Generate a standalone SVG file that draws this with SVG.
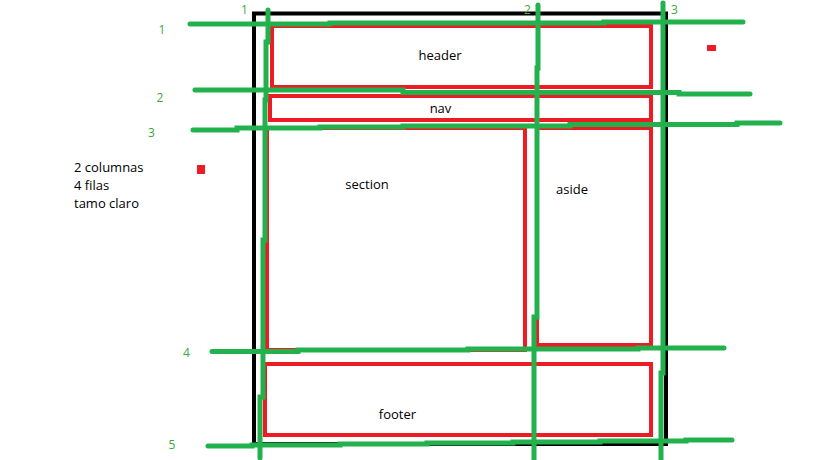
<svg xmlns="http://www.w3.org/2000/svg" width="816" height="460" viewBox="0 0 816 460">
  <style>
    .frame { fill: none; stroke: #000000; stroke-width: 4; }
    .box { fill: none; stroke: #ed1c24; stroke-width: 4; }
    .grid { fill: none; stroke: #22b14c; stroke-width: 5; stroke-linecap: round; stroke-linejoin: miter; }
    .lbl { font-family: "Open Sans", "Noto Sans", sans-serif; font-size: 13px; fill: #000000; }
    .num { font-family: "Open Sans", "Noto Sans", sans-serif; font-size: 12px; fill: #3aaa35; }
    .dot { fill: #ed1c24; }
  </style>
  <rect width="816" height="460" fill="#ffffff"/>

  <g id="frame">
    <rect class="frame" x="254" y="13.5" width="412" height="430.5"/>
  </g>

  <g id="header">
    <rect class="box" x="272" y="26" width="379" height="61"/>
    <text class="lbl" x="440" y="60" text-anchor="middle">header</text>
  </g>
  <g id="nav">
    <rect class="box" x="270" y="96" width="381" height="24"/>
    <text class="lbl" x="440.5" y="113" text-anchor="middle">nav</text>
  </g>
  <g id="section">
    <rect class="box" x="267" y="128" width="258" height="222"/>
    <text class="lbl" x="367" y="189" text-anchor="middle">section</text>
  </g>
  <g id="aside">
    <rect class="box" x="537" y="128" width="114" height="217"/>
    <text class="lbl" x="572" y="194" text-anchor="middle">aside</text>
  </g>
  <g id="footer">
    <rect class="box" x="265" y="364" width="386" height="71"/>
    <text class="lbl" x="397.5" y="419" text-anchor="middle">footer</text>
  </g>

  <g id="connectors">
    <path class="grid" d="M190,24 H330 V23 H604 V22 H743"/>
    <path class="grid" d="M195,90 H403 V92.5 H679 V94 H750"/>
    <path class="grid" d="M193,130 H237 V128 H320 V127 H403 V126 H570 V124.5 H737 V123 H780"/>
    <path class="grid" d="M212,351.5 H298 V350 H468 V349 H638 V348 H724"/>
    <path class="grid" d="M208,446 H252 V445 H340 V444 H427 V443 H513 V442 H600 V441 H686 V440 H732"/>
    <path class="grid" d="M268,10 V42 H266 V100 H265 V240 H263 V397 H260 V458"/>
    <path class="grid" d="M538,5 V68 H537 V317 H534 V460"/>
    <path class="grid" d="M663,3 V373 H661 V460"/>
  </g>

  <g id="numbers">
    <text class="num" x="244.5" y="14" text-anchor="middle">1</text>
    <text class="num" x="527.5" y="14" text-anchor="middle">2</text>
    <text class="num" x="674.5" y="14" text-anchor="middle">3</text>
    <text class="num" x="162" y="34" text-anchor="middle">1</text>
    <text class="num" x="160" y="102" text-anchor="middle">2</text>
    <text class="num" x="151.5" y="137" text-anchor="middle">3</text>
    <text class="num" x="186.5" y="357" text-anchor="middle">4</text>
    <text class="num" x="172" y="449" text-anchor="middle">5</text>
  </g>

  <g id="notes">
    <text class="lbl" x="74" y="172">2 columnas</text>
    <text class="lbl" x="74" y="190">4 filas</text>
    <text class="lbl" x="74" y="208">tamo claro</text>
  </g>

  <rect class="dot" x="707" y="45" width="9" height="6"/>
  <rect class="dot" x="197" y="165" width="8" height="9"/>
</svg>
